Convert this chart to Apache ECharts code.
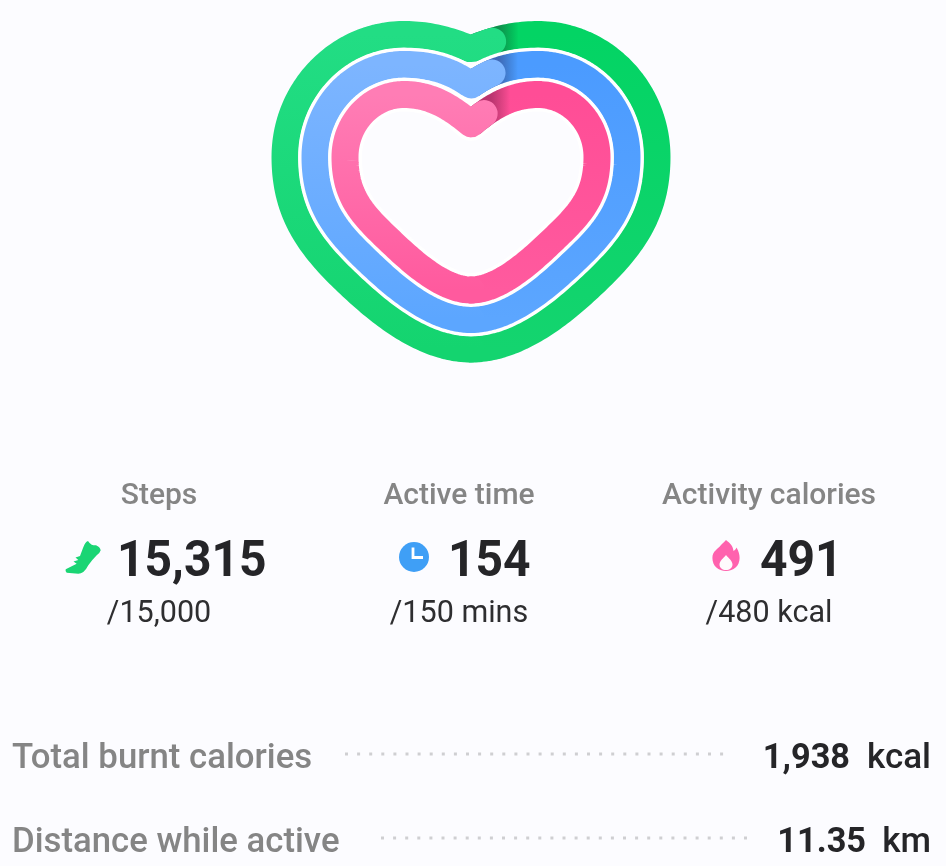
<!DOCTYPE html>
<html><head><meta charset="utf-8">
<style>html,body{margin:0;padding:0;background:#fcfcff}#c{width:946px;height:866px}</style>
<script src="https://cdn.jsdelivr.net/npm/echarts@6/dist/echarts.min.js"></script>
</head><body><div id="c"></div>
<script>
const metricNames = ['Steps', 'Active time', 'Activity calories'];
const metricValues = [15315, 154, 491];
const metricGoals = [15000, 150, 480];
const goalUnits = ['', ' mins', ' kcal'];
const summaryNames = ['Total burnt calories', 'Distance while active'];
const summaryValues = ['1,938', '11.35'];
const summaryUnits = ['kcal', 'km'];

const chart = echarts.init(document.getElementById('c'), null, {renderer: 'canvas'});
const font = 'Roboto, "Noto Sans", sans-serif';

/* ---------- layout / style (not data) ---------- */
const CX = 471, MIDY = 157, LOBE = 67, RING_W = 27, GAP = 3.4;
const rings = [
  {hw: 186, top: 34.5, notch: 49, slope: 0.4, bottom: 349, dx: 125, dy: 281, c1: 55, l1: 52, l2: 45, c2: 48,
   bottomC: '#14d46f', rightC: '#03d464', leftC: '#22dd84'},
  {hw: 156, top: 64.5, notch: 85, slope: 0.72, bottom: 319.5, dx: 105, dy: 259, c1: 45, l1: 45, l2: 40, c2: 38,
   bottomC: '#5ca6ff', rightC: '#4b9bff', leftC: '#7db5ff'},
  {hw: 126, top: 94.5, notch: 124, slope: 0.85, bottom: 290, dx: 85, dy: 237, c1: 38, l1: 35, l2: 30, c2: 30,
   bottomC: '#ff5a9e', rightC: '#ff4d96', leftC: '#ff7db5'}
];
const colX = [159, 459, 769];
const numLeft = [117, 448, 760];

function cubic(p0, p1, p2, p3, n, out) {
  for (let i = 1; i <= n; i++) {
    const t = i / n, u = 1 - t;
    out.push([
      u*u*u*p0[0] + 3*u*u*t*p1[0] + 3*u*t*t*p2[0] + t*t*t*p3[0],
      u*u*u*p0[1] + 3*u*u*t*p1[1] + 3*u*t*t*p2[1] + t*t*t*p3[1]
    ]);
  }
}
/* clockwise heart outline from the notch, closed, with cumulative arc length */
function heartPath(r) {
  const right = [[0, r.notch]];
  const T = r.top, H = r.hw;
  cubic([0, r.notch], [LOBE*0.3, r.notch - LOBE*0.3*r.slope], [LOBE*0.6, T], [LOBE, T], 24, right);
  cubic([LOBE, T], [LOBE + (H-LOBE)*0.55, T], [H, MIDY - (MIDY-T)*0.55], [H, MIDY], 40, right);
  cubic([H, MIDY], [H, MIDY+r.c1], [r.dx+0.72*r.l1, r.dy-0.69*r.l1], [r.dx, r.dy], 30, right);
  cubic([r.dx, r.dy], [r.dx-0.72*r.l2, r.dy+0.69*r.l2], [r.c2, r.bottom], [0, r.bottom], 36, right);
  const left = right.slice(0, -1).reverse().map(p => [-p[0], p[1]]);
  const pts = right.concat(left).map(p => [p[0] + CX, p[1]]);
  const s = [0];
  for (let i = 1; i < pts.length; i++) s.push(s[i-1] + Math.hypot(pts[i][0]-pts[i-1][0], pts[i][1]-pts[i-1][1]));
  return {pts, s, len: s[s.length-1], half: right.length - 1};
}
/* slice of the outline between arc lengths a and b (b may pass a full lap) */
function slice(h, a, b) {
  const out = [];
  const at = d => {
    const lap = Math.floor(d / h.len); const m = d - lap * h.len;
    let i = 1; while (i < h.s.length - 1 && h.s[i] < m) i++;
    const t = (m - h.s[i-1]) / (h.s[i] - h.s[i-1] || 1);
    return [h.pts[i-1][0] + (h.pts[i][0]-h.pts[i-1][0])*t, h.pts[i-1][1] + (h.pts[i][1]-h.pts[i-1][1])*t];
  };
  for (let d = a; d < b; d += 3) out.push(at(d));
  out.push(at(b));
  return out;
}

function renderRing(params, api) {
  const idx = params.dataIndex;
  const r = rings[idx];
  const h = heartPath(r);
  const progress = api.value(0) / api.value(1);
  const endS = progress * h.len;
  const map = pts => pts.map(p => api.coord(p));
  const vGrad = (topC, botC) => new echarts.graphic.LinearGradient(0, api.coord([0, r.top])[1], 0, api.coord([0, r.bottom])[1],
      [{offset: 0, color: topC}, {offset: 1, color: botC}], true);
  const poly = (pts, stroke, w, cap) => ({type: 'polyline', shape: {points: map(pts)}, silent: true,
      style: {fill: 'none', stroke, lineWidth: w, lineCap: cap || 'butt', lineJoin: 'round'}});
  const children = [];
  if (idx > 0) children.push(poly(h.pts.concat([h.pts[0]]), '#ffffff', RING_W + GAP * 2, 'round'));
  const half = h.s[h.half];
  children.push(poly(slice(h, 0, half + 2), vGrad(r.rightC, r.bottomC), RING_W));
  // cast shadow of the overlapping end on the start of the ring
  const end = slice(h, endS - h.len, endS - h.len + 0.1)[0];
  const sx0 = api.coord([end[0] + 7, 0])[0], sx1 = api.coord([end[0] + 26, 0])[0];
  children.push(poly(slice(h, 0, endS - h.len + 34),
    new echarts.graphic.LinearGradient(sx0, 0, sx1, 0,
      [{offset: 0, color: 'rgba(40,0,30,0.32)'}, {offset: 1, color: 'rgba(0,0,0,0)'}], true), RING_W));
  // lap closing part, with rounded end overlapping the start
  children.push(poly(slice(h, half, endS), vGrad(r.leftC, r.bottomC), RING_W, 'round'));
  return {type: 'group', children};
}

function renderIcon(params, api) {
  const k = params.dataIndex;
  const at = (x, y) => api.coord([x, y]);
  const P = (d, fill) => ({type: 'path', silent: true, shape: {pathData: d}, style: {fill}});
  if (k === 0) {
    return {type: 'group', children: [
      P('M66.7 572.7 Q65 571 65.7 569.3 L71.7 566.3 L76.7 563.7 L73.5 561.5 L78.3 560 L75.5 557.5 L80 556 L83 548 Q85 542 88 541 Q90 544 91.7 544.7 Q94 545.5 96 545.3 Q100 547 100.7 550.3 Q100 553 96.7 555.3 Q92 560 88.3 565.3 Q86 570 83.3 572 Q81 573.7 78.3 573.7 Z', '#1ad574')
    ]};
  }
  if (k === 1) {
    const c = at(414, 557);
    return {type: 'group', children: [
      {type: 'circle', silent: true, shape: {cx: c[0], cy: c[1], r: 15}, style: {fill: '#3f9ff6'}},
      {type: 'polyline', silent: true, shape: {points: [at(413, 547.5), at(413, 557.5), at(423, 557.5)]},
        style: {fill: 'none', stroke: '#ffffff', lineWidth: 2.8}}
    ]};
  }
  return {type: 'group', children: [
    P('M726 540 C730 543 733 546 733.5 551 C735 550 736 549 736.5 547.5 C738.8 551 739.6 555 739.6 558 C739.6 566 733.5 571 726 571 C718.5 571 712.4 566 712.4 558 C712.4 551 718 549 721 545 C723 543 725 541 726 540 Z', '#ff62ae'),
    P('M726 555 C728.5 558 732.5 561 732.5 564.5 C732.5 568 729.5 570 726 570 C722.5 570 719.5 568 719.5 564.5 C719.5 561 723.5 558 726 555 Z', '#fffafd')
  ]};
}

/* ---------- text and leaders ---------- */
const graphic = [];
const txt = (text, x, y, size, fill, weight, align, scaleX) => ({
  type: 'text', x, y, scaleX: scaleX || 1, silent: true,
  style: {text, fill, font: `${weight} ${size}px ${font}`, textAlign: align, textVerticalAlign: 'middle'}
});
metricNames.forEach((n, i) => {
  graphic.push(txt(n, colX[i], 496, 30, '#858585', 500, 'center'));
  graphic.push(txt(metricValues[i].toLocaleString('en-US'), numLeft[i], 563, 50, '#252528', 700, 'left', 0.96));
  graphic.push(txt('/' + metricGoals[i].toLocaleString('en-US') + goalUnits[i], colX[i], 614, 31, '#2e2e30', 400, 'center', 0.985));
});
const rowY = [759, 843], leaderX = [[345, 732], [381, 752]], valEnd = [850, 866];
summaryNames.forEach((n, i) => {
  graphic.push(txt(n, 12, rowY[i], 35, '#858585', 500, 'left', 0.993));
  graphic.push({type: 'line', silent: true, shape: {x1: leaderX[i][0], y1: rowY[i] - 5, x2: leaderX[i][1], y2: rowY[i] - 5},
    style: {stroke: '#cfcfd2', lineWidth: 3, lineDash: [3, 9.1]}});
  graphic.push(txt(summaryValues[i], valEnd[i], rowY[i], 35, '#252528', 700, 'right', 0.98));
  graphic.push(txt(summaryUnits[i], 931, rowY[i], 35, '#252528', 500, 'right'));
});

chart.setOption({
  backgroundColor: '#fcfcff',
  animation: false,
  grid: {left: 0, right: 0, top: 0, bottom: 0},
  xAxis: {type: 'value', min: 0, max: 946, show: false},
  yAxis: {type: 'value', min: 0, max: 866, inverse: true, show: false},
  graphic: {elements: graphic},
  series: [
    {type: 'custom', name: 'rings', clip: false, renderItem: renderRing, silent: true, encode: {x: -1, y: -1},
     data: metricValues.map((v, i) => [v, metricGoals[i]])},
    {type: 'custom', name: 'icons', clip: false, renderItem: renderIcon, silent: true, encode: {x: -1, y: -1},
     data: metricNames.map((n, i) => [i])}
  ]
});
</script></body></html>
